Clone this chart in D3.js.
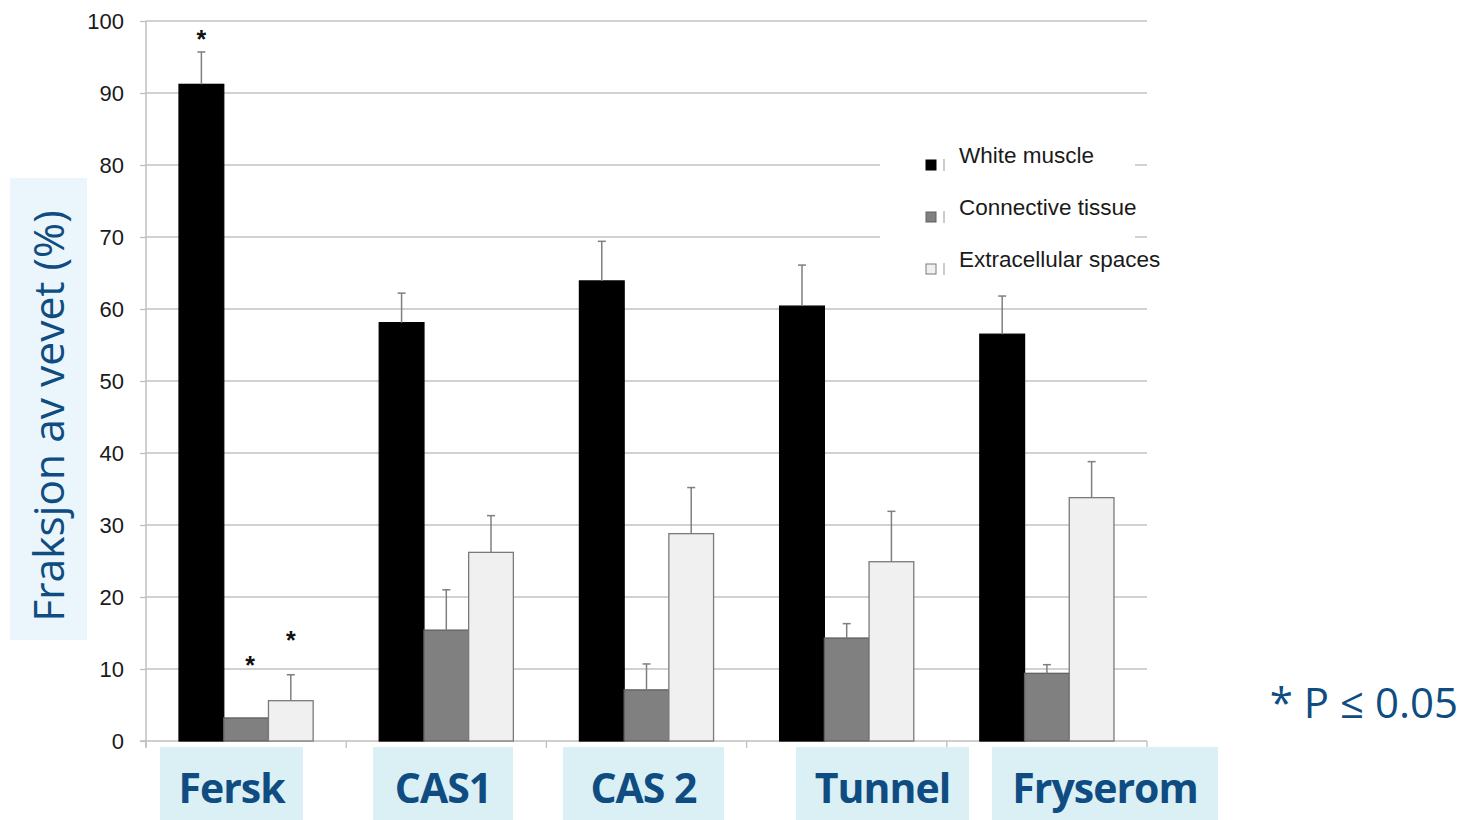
<!DOCTYPE html>
<html>
<head>
<meta charset="utf-8">
<script src="https://cdn.jsdelivr.net/npm/d3@7"></script>
<style>
  html, body { margin: 0; padding: 0; background: #fff; }
  svg { display: block; }
</style>
</head>
<body>
<svg id="chart" width="1462" height="820"></svg>
<script>
// ---- data ----
const categories = ["Fersk", "CAS1", "CAS 2", "Tunnel", "Fryserom"];
const series = ["White muscle", "Connective tissue", "Extracellular spaces"];
const whiteMuscle = [91.2, 58.1, 63.9, 60.4, 56.5];
const connectiveTissue = [3.2, 15.4, 7.1, 14.3, 9.4];
const extracellularSpaces = [5.6, 26.2, 28.8, 24.9, 33.8];
const whiteMuscleErr = [4.5, 4.1, 5.5, 5.7, 5.3];
const connectiveTissueErr = [0, 5.6, 3.6, 2.0, 1.2];
const extracellularSpacesErr = [3.6, 5.1, 6.4, 7.0, 5.0];
const significant = [[true, true, true], [false, false, false], [false, false, false], [false, false, false], [false, false, false]];
const yTicks = [0, 10, 20, 30, 40, 50, 60, 70, 80, 90, 100];
const yLabel = "Fraksjon av vevet (%)";
const noteText = "* P \u2264 0.05";

// ---- layout / style ----
const seriesColors = ["#000000", "#808080", "#f0f0f0"];
const seriesStroke = ["#000000", "#606060", "#7a7a7a"];
const starLift = [4, 44, 26];      // px above the error-bar top, per series
const starShift = [0, 4, 0];       // px horizontal nudge, per series
const blue = "#0f4c81";
const plot = { left: 146, right: 1147, top: 21, bottom: 741 };
// category label boxes (annotation layout, hand-placed in the reference)
const labelBoxes = [
  { x: 160, w: 143 }, { x: 373, w: 140 }, { x: 563, w: 161 }, { x: 796, w: 173 }, { x: 992, w: 226 }
];

const svg = d3.select("#chart");
const values = [whiteMuscle, connectiveTissue, extracellularSpaces];
const errs = [whiteMuscleErr, connectiveTissueErr, extracellularSpacesErr];
const rows = categories.map((c, i) => ({
  cat: c, i,
  bars: series.map((s, k) => ({ s, k, v: values[k][i], e: errs[k][i], sig: significant[i][k] }))
}));

const y = d3.scaleLinear().domain([0, 100]).range([plot.bottom, plot.top]);
const x = d3.scaleBand().domain(categories).range([plot.left, plot.right]).paddingInner(0).paddingOuter(0);
const bw = x.bandwidth();
const x1 = d3.scaleBand().domain(series).range([bw * 0.165, bw * 0.835]).padding(0);

// gridlines
svg.append("g")
  .selectAll("line").data(yTicks.filter(t => t > 0)).join("line")
  .attr("x1", plot.left).attr("x2", plot.right)
  .attr("y1", d => y(d)).attr("y2", d => y(d))
  .attr("stroke", "#c2c2c2").attr("stroke-width", 1.3);

// y axis
const yAxis = d3.axisLeft(y).tickValues(yTicks).tickSize(6).tickPadding(16).tickFormat(d3.format("d"));
const gy = svg.append("g").attr("transform", `translate(${plot.left},0)`).call(yAxis);
gy.select(".domain").attr("stroke", "#bfbfbf").attr("stroke-width", 1.5)
  .attr("d", `M0,${plot.top}V${plot.bottom + 6}`);
gy.selectAll(".tick line").attr("stroke", "#bfbfbf").attr("stroke-width", 1.3);
gy.selectAll(".tick text").attr("font-family", "Liberation Sans, Arial, sans-serif")
  .attr("font-size", 22).attr("fill", "#1a1a1a").attr("dy", "0.36em");

// x axis
const xAxis = d3.axisBottom(x).tickSize(0).tickFormat("");
const gx = svg.append("g").attr("transform", `translate(0,${plot.bottom})`).call(xAxis);
gx.select(".domain").attr("stroke", "#bfbfbf").attr("stroke-width", 1.5)
  .attr("d", `M${plot.left - 6},0H${plot.right}`);
gx.selectAll(".tick").remove();
gx.selectAll("line.sep").data(categories.concat(["__end"])).join("line")
  .attr("class", "sep")
  .attr("x1", (d, i) => i < categories.length ? x(d) : plot.right)
  .attr("x2", (d, i) => i < categories.length ? x(d) : plot.right)
  .attr("y1", 0).attr("y2", 7)
  .attr("stroke", "#bfbfbf").attr("stroke-width", 1.3);

// bars
const groups = svg.append("g").selectAll("g").data(rows).join("g")
  .attr("transform", d => `translate(${x(d.cat)},0)`);

groups.selectAll("rect").data(d => d.bars).join("rect")
  .attr("x", d => x1(d.s)).attr("width", x1.bandwidth())
  .attr("y", d => y(d.v)).attr("height", d => y(0) - y(d.v))
  .attr("fill", d => seriesColors[d.k])
  .attr("stroke", d => seriesStroke[d.k]).attr("stroke-width", 1.3);

// error bars
const eb = groups.selectAll("g.err").data(d => d.bars.filter(b => b.e > 0)).join("g").attr("class", "err");
eb.append("line")
  .attr("x1", d => x1(d.s) + x1.bandwidth() / 2).attr("x2", d => x1(d.s) + x1.bandwidth() / 2)
  .attr("y1", d => y(d.v)).attr("y2", d => y(d.v + d.e))
  .attr("stroke", "#7f7f7f").attr("stroke-width", 1.5);
eb.append("line")
  .attr("x1", d => x1(d.s) + x1.bandwidth() / 2 - 4).attr("x2", d => x1(d.s) + x1.bandwidth() / 2 + 4)
  .attr("y1", d => y(d.v + d.e)).attr("y2", d => y(d.v + d.e))
  .attr("stroke", "#7f7f7f").attr("stroke-width", 1.5);

// significance stars
groups.selectAll("text.star").data(d => d.bars.filter(b => b.sig)).join("text")
  .attr("class", "star")
  .attr("x", d => x1(d.s) + x1.bandwidth() / 2 + starShift[d.k])
  .attr("y", d => y(d.v + d.e) - starLift[d.k])
  .attr("text-anchor", "middle")
  .attr("font-family", "Liberation Sans, Arial, sans-serif")
  .attr("font-size", 25).attr("font-weight", "bold").attr("fill", "#111")
  .text("*");

// legend (white box covering gridlines)
const lg = svg.append("g");
lg.append("rect").attr("x", 880).attr("y", 138).attr("width", 255).attr("height", 148).attr("fill", "#fff");
const legItems = lg.selectAll("g.li").data(series).join("g").attr("class", "li")
  .attr("transform", (d, i) => `translate(926,${160 + i * 52})`);
legItems.append("rect").attr("x", 0).attr("y", 0).attr("width", 10).attr("height", 10)
  .attr("fill", (d, i) => seriesColors[i]).attr("stroke", (d, i) => seriesStroke[i]).attr("stroke-width", 1);
legItems.append("line").attr("x1", 18).attr("x2", 18).attr("y1", -1).attr("y2", 11)
  .attr("stroke", "#999").attr("stroke-width", 1);
legItems.append("text").attr("x", 33).attr("y", 3)
  .attr("font-family", "Liberation Sans, Arial, sans-serif").attr("font-size", 22.5).attr("fill", "#1a1a1a")
  .text(d => d);

// y label box + text
svg.append("rect").attr("x", 10).attr("y", 178).attr("width", 77).attr("height", 462).attr("fill", "#eaf6fb");
svg.append("text")
  .attr("transform", "translate(64,416) rotate(-90)")
  .attr("text-anchor", "middle")
  .attr("font-family", "Open Sans, Noto Sans, sans-serif").attr("font-size", 42.5).attr("fill", blue)
  .text(yLabel);

// category label boxes
const cl = svg.append("g").selectAll("g").data(categories).join("g");
cl.append("rect")
  .attr("x", (d, i) => labelBoxes[i].x).attr("y", 747)
  .attr("width", (d, i) => labelBoxes[i].w).attr("height", 73)
  .attr("fill", "#daf0f5");
cl.append("text")
  .attr("x", (d, i) => labelBoxes[i].x + labelBoxes[i].w / 2)
  .attr("y", 803)
  .attr("text-anchor", "middle")
  .attr("font-family", "Open Sans, Noto Sans, sans-serif").attr("font-weight", "bold")
  .attr("font-size", 41).attr("fill", blue)
  .attr("letter-spacing", -1)
  .text(d => d);

// note
svg.append("text").attr("x", 1458).attr("y", 718).attr("text-anchor", "end")
  .attr("font-family", "Open Sans, Noto Sans, sans-serif").attr("font-size", 42).attr("fill", blue)
  .text(noteText);
</script>
</body>
</html>
